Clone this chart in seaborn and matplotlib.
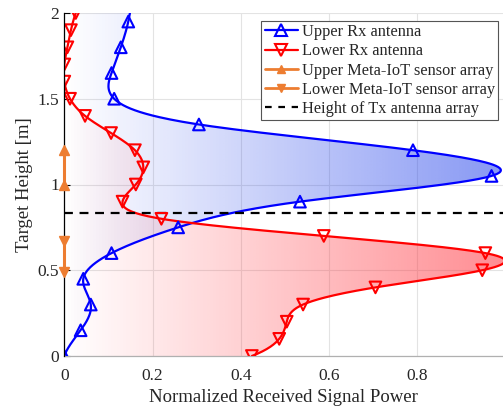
import numpy as np
import pandas as pd
import matplotlib
matplotlib.use("Agg")
import matplotlib.pyplot as plt
from matplotlib.lines import Line2D
from matplotlib.patches import Polygon
import seaborn as sns

# ---------------- data ----------------
upper_heights = [0.0, 0.15, 0.30, 0.45, 0.60, 0.75, 0.90, 1.05, 1.20, 1.35, 1.50, 1.65, 1.80, 1.95]
upper_power = [0.0, 0.037, 0.060, 0.043, 0.107, 0.258, 0.534, 0.968, 0.790, 0.305, 0.113, 0.107, 0.128, 0.145]

lower_heights = [0.0, 0.1, 0.2, 0.3, 0.4, 0.5, 0.6, 0.7, 0.8, 0.9, 1.0,
                 1.1, 1.2, 1.3, 1.4, 1.5, 1.6, 1.7, 1.8, 1.9, 2.0]
lower_power = [0.425, 0.487, 0.504, 0.541, 0.705, 0.947, 0.954, 0.588, 0.220, 0.132, 0.162,
               0.179, 0.160, 0.106, 0.047, 0.013, 0.0, 0.0, 0.007, 0.015, 0.026]

upper_array_heights = [1.0, 1.2]
lower_array_heights = [0.49, 0.67]
tx_height = 0.835

legend_labels = ["Upper Rx antenna", "Lower Rx antenna", "Upper Meta-IoT sensor array",
                 "Lower Meta-IoT sensor array", "Height of Tx antenna array"]
x_ticks = [0, 0.2, 0.4, 0.6, 0.8]
y_ticks = [0, 0.5, 1, 1.5, 2]
x_label = "Normalized Received Signal Power"
y_label = "Target Height [m]"


def spline_curve(t, v, tq):
    """not-a-knot cubic spline through (t, v), evaluated at tq"""
    t = np.asarray(t, float); v = np.asarray(v, float)
    n = len(t); m = n - 1
    A = np.zeros((4 * m, 4 * m)); b = np.zeros(4 * m)
    r = 0
    for i in range(m):
        h = t[i + 1] - t[i]
        A[r, 4 * i] = 1; b[r] = v[i]; r += 1
        A[r, 4 * i:4 * i + 4] = [1, h, h ** 2, h ** 3]; b[r] = v[i + 1]; r += 1
    for i in range(m - 1):
        h = t[i + 1] - t[i]
        A[r, 4 * i:4 * i + 4] = [0, 1, 2 * h, 3 * h ** 2]; A[r, 4 * (i + 1) + 1] = -1; r += 1
        A[r, 4 * i:4 * i + 4] = [0, 0, 2, 6 * h]; A[r, 4 * (i + 1) + 2] = -2; r += 1
    A[r, 3] = 1; A[r, 7] = -1; r += 1
    A[r, 4 * (m - 2) + 3] = 1; A[r, 4 * (m - 1) + 3] = -1; r += 1
    c = np.linalg.solve(A, b).reshape(m, 4)
    idx = np.clip(np.searchsorted(t, tq, side="right") - 1, 0, m - 1)
    s = tq - t[idx]
    cc = c[idx]
    return cc[:, 0] + cc[:, 1] * s + cc[:, 2] * s ** 2 + cc[:, 3] * s ** 3


# ---------------- style ----------------
sns.set_theme(style="white")
plt.rcParams["font.family"] = ["Liberation Serif", "DejaVu Serif"]
plt.rcParams["mathtext.fontset"] = "stix"
text_col = "#262626"

fig = plt.figure(figsize=(5.03, 4.07), dpi=100)
ax = fig.add_axes([64.3 / 503, 1 - 356 / 407, 1 - 64.3 / 503, (356 - 13) / 407])
XMAX = 0.994

BLUE = "#0000ff"
RED = "#ff0000"
ORANGE = "#ed7d31"

yq_up = np.linspace(0, 2.0, 600)
xq_up = spline_curve(upper_heights, upper_power, yq_up)
yq_lo = np.linspace(0, 2.0, 600)
xq_lo = spline_curve(lower_heights, lower_power, yq_lo)


def gradient_fill(xc, yc, rgb, amax, z):
    grad = np.linspace(0, 1, 256)[None, :]
    img = np.zeros((2, 256, 4))
    img[..., 0] = rgb[0] / 255
    img[..., 1] = rgb[1] / 255
    img[..., 2] = rgb[2] / 255
    img[..., 3] = amax * np.repeat(grad, 2, axis=0)
    im = ax.imshow(img, extent=[0, 1.0, 0, 2], origin="lower", aspect="auto",
                   interpolation="bilinear", zorder=z)
    verts = np.column_stack([np.r_[0, xc, 0], np.r_[yc[0], yc, yc[-1]]])
    poly = Polygon(verts, closed=True, transform=ax.transData, facecolor="none", edgecolor="none")
    ax.add_patch(poly)
    im.set_clip_path(poly)


gradient_fill(xq_up, yq_up, (40, 70, 235), 0.56, 1)
gradient_fill(xq_lo, yq_lo, (255, 50, 60), 0.56, 1.1)

# smooth curves
curve_up = pd.DataFrame({"power": xq_up, "height": yq_up})
curve_lo = pd.DataFrame({"power": xq_lo, "height": yq_lo})
sns.lineplot(data=curve_up, x="power", y="height", sort=False, estimator=None,
             color=BLUE, lw=1.6, ax=ax, zorder=3)
sns.lineplot(data=curve_lo, x="power", y="height", sort=False, estimator=None,
             color=RED, lw=1.6, ax=ax, zorder=3)

# markers
sns.scatterplot(x=upper_power, y=upper_heights, marker="^", s=70, facecolor="none",
                edgecolor=BLUE, linewidth=1.5, ax=ax, zorder=4)
sns.scatterplot(x=lower_power, y=lower_heights, marker="v", s=70, facecolor="none",
                edgecolor=RED, linewidth=1.5, ax=ax, zorder=4)

# sensor arrays
ax.plot([0, 0], upper_array_heights, color=ORANGE, lw=2.2, marker="^", ms=6.5, clip_on=False, zorder=8)
ax.plot([0, 0], lower_array_heights, color=ORANGE, lw=2.2, marker="v", ms=6.5, clip_on=False, zorder=8)

# Tx height
ax.axhline(tx_height, color="black", lw=1.6, ls=(0, (4, 3)), zorder=3)

ax.set_xlim(0, XMAX)
ax.set_ylim(0, 2)

# axes styling
ax.set_xticks(x_ticks)
ax.set_xticklabels(["0", "0.2", "0.4", "0.6", "0.8"])
ax.set_yticks(y_ticks)
ax.set_yticklabels(["0", "0.5", "1", "1.5", "2"])
ax.grid(True, color="#e3e3e3", lw=0.8)
ax.set_axisbelow(True)
for side in ["top", "right"]:
    ax.spines[side].set_visible(False)
ax.spines["left"].set_color("black")
ax.spines["left"].set_linewidth(0.9)
ax.spines["left"].set_zorder(6)
ax.spines["bottom"].set_color("#b0b0b0")
ax.spines["bottom"].set_linewidth(0.9)
ax.tick_params(axis="y", direction="in", length=4, width=0.8, color="black", pad=4,
               labelsize=12.5, labelcolor=text_col, left=True)
ax.tick_params(axis="x", direction="in", length=0, pad=9, labelsize=12.5, labelcolor=text_col)
ax.set_xlabel(x_label, fontsize=13.5, color=text_col, labelpad=3)
ax.set_ylabel(y_label, fontsize=13.5, color=text_col, labelpad=3)

handles = [
    Line2D([], [], color=BLUE, lw=1.6, marker="^", ms=8, mfc="none", mew=1.5),
    Line2D([], [], color=RED, lw=1.6, marker="v", ms=8, mfc="none", mew=1.5),
    Line2D([], [], color=ORANGE, lw=2, marker="^", ms=6),
    Line2D([], [], color=ORANGE, lw=2, marker="v", ms=6),
    Line2D([], [], color="black", lw=1.6, ls=(0, (3, 3))),
]
leg = ax.legend(handles, legend_labels, loc="upper right",
                bbox_to_anchor=(498 / 503, 1 - 20.7 / 407), bbox_transform=fig.transFigure,
                borderaxespad=0, fontsize=11.8, frameon=True, fancybox=False,
                edgecolor="#555555", framealpha=1, handlelength=2.0, handletextpad=0.25,
                labelspacing=0.2, borderpad=0.2)
leg.get_frame().set_linewidth(0.8)
for t in leg.get_texts():
    t.set_color(text_col)
leg.set_zorder(10)

fig.savefig("out.png", dpi=100)
